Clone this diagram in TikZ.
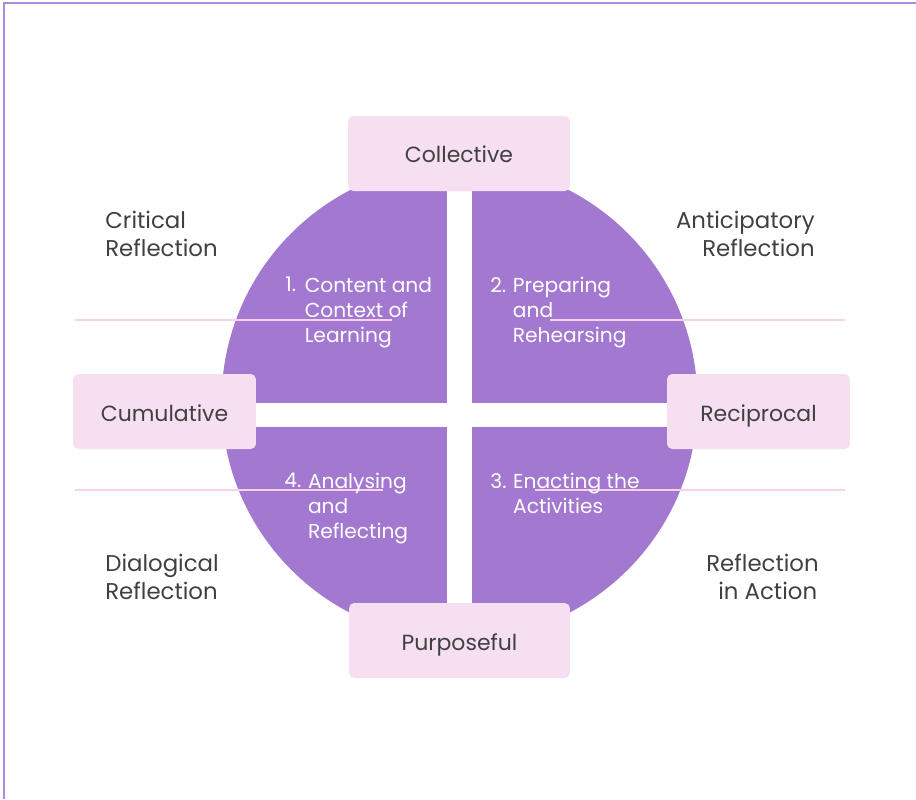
\documentclass[tikz,border=0pt]{standalone}
\usepackage{fontspec}
\setmainfont{Poppins}
\usetikzlibrary{positioning}
\definecolor{quadfill}{HTML}{A378D0}
\definecolor{boxfill}{HTML}{F7DFF2}
\definecolor{sepline}{HTML}{F5D3EE}
\definecolor{framecol}{HTML}{A98BDC}
\definecolor{labtext}{HTML}{404040}
\tikzset{
  keybox/.style={fill=boxfill, rounded corners=3pt, text=labtext,
    text height=12pt, text depth=1.2pt,
    font=\fontsize{12.5}{16}\selectfont},
  outlabel/.style={text=labtext, inner sep=0pt,
    font=\fontsize{13}{15.9}\selectfont},
  innum/.style={text=white, inner sep=0pt, font=\fontsize{11.5}{14.2}\selectfont},
  inlabel/.style={innum, align=left}
}
\begin{document}
\begin{tikzpicture}[x=0.02cm, y=-0.02cm]
    \useasboundingbox (0,0) rectangle (916,799);
    \draw[framecol, line width=0.8pt] (4,799) -- (4,3) -- (916,3);
    % circle and the white cross
    \fill[quadfill] (459.5,401.5) circle (4.76cm);
    \fill[white] (447,150) rectangle (472,660);
    \fill[white] (200,403) rectangle (720,427);
    % separator lines
    \draw[sepline, line width=0.9pt] (75,320) -- (392,320);
    \draw[sepline, line width=0.9pt] (550,320) -- (845,320);
    \draw[sepline, line width=0.9pt] (75,490) -- (383,490);
    \draw[sepline, line width=0.9pt] (535,490) -- (845,490);
    % boxes
    \node[keybox, minimum width=4.44cm, minimum height=1.5cm] (collective) at (459,153.5) {Collective};
    \node[keybox, minimum width=4.42cm, minimum height=1.5cm] (purposeful) at (459.5,640.5) {Purposeful};
    \node[keybox, minimum width=3.66cm, minimum height=1.5cm] (cumulative) at (164.5,411.5) {Cumulative};
    \node[keybox, minimum width=3.66cm, minimum height=1.5cm] (reciprocal) at (758.5,411.5) {Reciprocal};
    % outer labels
    \node[outlabel, align=left, anchor=north west] (critical) at (105,211) {Critical\\Reflection};
    \node[outlabel, align=right, anchor=north east] (anticip) at (815,211) {Anticipatory\\Reflection};
    \node[outlabel, align=left, anchor=north west] (dialog) at (105,554) {Dialogical\\Reflection};
    \node[outlabel, align=left, anchor=north west] (inaction) at (706,554) {Reflection\\\hspace*{0.24cm}in Action};
    % quadrant labels
    \node[innum, anchor=north west] (q1n) at (285,277) {1.};
    \node[inlabel, right=0.16cm of q1n.north east, anchor=north west] (q1t) {Content and\\Context of\\Learning};
    \node[innum, anchor=north west] (q2n) at (490,277) {2.};
    \node[inlabel, right=0.12cm of q2n.north east, anchor=north west] (q2t) {Preparing\\and\\Rehearsing};
    \node[innum, anchor=north west] (q3n) at (490,473) {3.};
    \node[inlabel, right=0.12cm of q3n.north east, anchor=north west] (q3t) {Enacting the\\Activities};
    \node[innum, anchor=north west] (q4n) at (284,473) {4.};
    \node[inlabel, right=0.12cm of q4n.north east, anchor=north west] (q4t) {Analysing\\and\\Reflecting};
\end{tikzpicture}
\end{document}
